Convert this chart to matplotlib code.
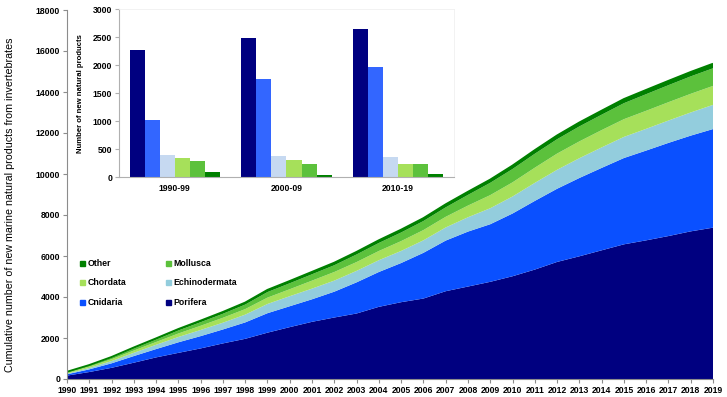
import numpy as np
import matplotlib.pyplot as plt
from matplotlib.lines import Line2D

plt.rcParams['font.family'] = ['Liberation Sans', 'DejaVu Sans']

# cumulative counts per phylum (stacked in this order, bottom first)
years = list(range(1990, 2020))
porifera = [165, 340, 545, 795, 1054, 1275, 1492, 1736, 1960, 2260,
            2530, 2789, 3000, 3195, 3520, 3747, 3925, 4282, 4510, 4740,
            5012, 5337, 5710, 5985, 6277, 6569, 6764, 6973, 7202, 7382]
cnidaria = [65, 130, 220, 324, 406, 515, 600, 681, 800, 950,
            1020, 1100, 1260, 1520, 1700, 1910, 2230, 2470, 2680, 2810,
            3060, 3350, 3570, 3820, 4020, 4210, 4380, 4545, 4670, 4810]
echinodermata = [30, 70, 110, 160, 210, 260, 300, 330, 380, 450,
                 490, 520, 540, 560, 575, 590, 610, 640, 700, 780,
                 830, 880, 925, 965, 1000, 1030, 1060, 1090, 1130, 1180]
chordata = [45, 65, 90, 110, 135, 170, 205, 240, 270, 310,
            340, 390, 420, 430, 450, 480, 500, 520, 570, 640,
            690, 740, 790, 820, 845, 865, 880, 895, 910, 925]
mollusca = [30, 50, 70, 100, 120, 150, 175, 195, 220, 270,
            290, 310, 330, 370, 390, 420, 440, 460, 520, 600,
            650, 680, 700, 730, 750, 780, 810, 830, 850, 860]
other = [20, 28, 41, 52, 60, 71, 79, 92, 101, 110,
         114, 121, 127, 129, 136, 141, 144, 152, 156, 160,
         171, 179, 188, 196, 199, 204, 211, 214, 219, 225]

# new products per decade (inset)
decades = ['1990-99', '2000-09', '2010-19']
dec_porifera = [2280, 2488, 2643]
dec_cnidaria = [1018, 1762, 1977]
dec_echinodermata = [393, 387, 363]
dec_chordata = [352, 304, 245]
dec_mollusca = [291, 245, 245]
dec_other = [95, 48, 66]

area_colors = ['#000080', '#0A50FF', '#93CDDD', '#A6E05A', '#5CC13C', '#008000']
bar_colors = ['#000080', '#3366FF', '#C6D9F1', '#A6E05A', '#5CC13C', '#008000']
names = ['Porifera', 'Cnidaria', 'Echinodermata', 'Chordata', 'Mollusca', 'Other']
grey = '#8C8C8C'

fig = plt.figure(figsize=(7.27, 3.97), dpi=100)
ax = fig.add_axes([67 / 727, 18 / 397, 646 / 727, 369 / 397])

layers = [porifera, cnidaria, echinodermata, chordata, mollusca, other]
ax.stackplot(years, *layers, colors=area_colors, linewidth=0)
total = np.sum(np.array(layers), axis=0)
ax.plot(years, total, color='#008000', lw=1.3, solid_capstyle='butt')

ax.set_xlim(1990, 2019)
ax.set_ylim(0, 18000)
ax.set_xticks(years)
ax.set_yticks(range(0, 18001, 2000))
for s in ['top', 'right']:
    ax.spines[s].set_visible(False)
for s in ['left', 'bottom']:
    ax.spines[s].set_color(grey)
    ax.spines[s].set_linewidth(0.8)
ax.tick_params(axis='both', colors=grey, length=3, width=0.8, labelcolor='black')
ax.tick_params(axis='x', labelsize=6.2, pad=2)
ax.tick_params(axis='y', labelsize=6.2, pad=2)
for lab in ax.get_xticklabels() + ax.get_yticklabels():
    lab.set_fontweight('bold')
ax.set_ylabel('Cumulative number of new marine natural products from invertebrates',
              fontsize=7.7)
ax.yaxis.set_label_coords(-0.081, 0.4715)

# legend, column-major: Other/Chordata/Cnidaria | Mollusca/Echinodermata/Porifera
order = [5, 3, 1, 4, 2, 0]
handles = [Line2D([], [], ls='', marker='s', markersize=3.6, color=area_colors[i])
           for i in order]
leg = ax.legend(handles, [names[i] for i in order], ncol=2, frameon=False,
                loc='upper left', bbox_to_anchor=(0.015, 0.335),
                prop={'weight': 'bold', 'size': 6.3}, handlelength=0.5,
                handletextpad=0.35, labelspacing=1.2, columnspacing=4.5,
                borderaxespad=0)

# inset: new products per decade
ins = fig.add_axes([119 / 727, (397 - 177.3) / 397, 335 / 727, 168 / 397])
x = np.arange(len(decades))
w = 0.135
series = [dec_porifera, dec_cnidaria, dec_echinodermata, dec_chordata,
          dec_mollusca, dec_other]
for i, vals in enumerate(series):
    ins.bar(x + (i - 2.5) * w, vals, width=w, color=bar_colors[i], linewidth=0)
ins.set_xlim(-0.5, 2.5)
ins.set_ylim(0, 3000)
ins.set_yticks(range(0, 3001, 500))
ins.set_xticks(x)
ins.set_xticklabels(decades)
for s in ['top', 'right']:
    ins.spines[s].set_color('#F0F0F0')
    ins.spines[s].set_linewidth(0.6)
for s in ['left', 'bottom']:
    ins.spines[s].set_color('#B0B0B0')
    ins.spines[s].set_linewidth(0.8)
ins.tick_params(axis='y', colors='#B0B0B0', length=3, width=0.8,
                labelcolor='black', labelsize=6.2, pad=2)
ins.tick_params(axis='x', length=0, labelsize=6.2, pad=5)
for lab in ins.get_xticklabels() + ins.get_yticklabels():
    lab.set_fontweight('bold')
ins.set_ylabel('Number of new natural products', fontsize=5.6, fontweight='bold')
ins.yaxis.set_label_coords(-0.1045, 0.5)

fig.savefig('out.png', dpi=100)
